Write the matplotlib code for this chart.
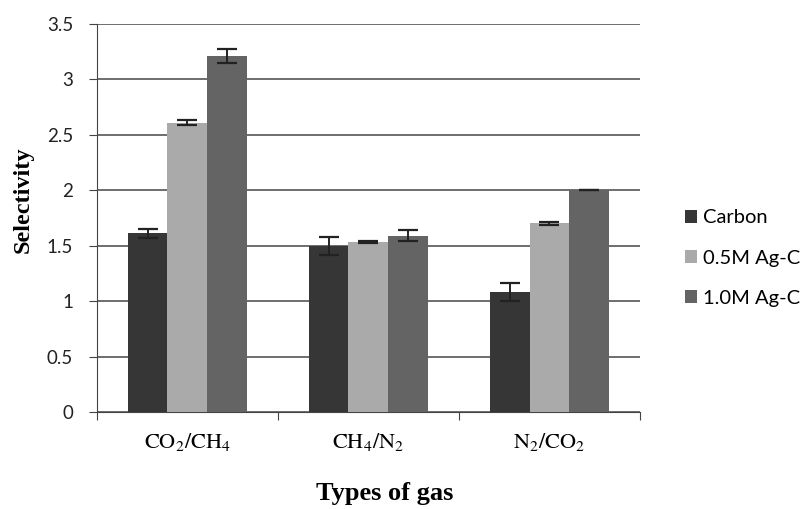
import matplotlib
matplotlib.use("Agg")
import matplotlib.pyplot as plt
import numpy as np

categories = ["CO$_2$/CH$_4$", "CH$_4$/N$_2$", "N$_2$/CO$_2$"]
series_names = ["Carbon", "0.5M Ag-C", "1.0M Ag-C"]
carbon = [1.61, 1.50, 1.08]
carbon_err = [0.04, 0.08, 0.08]
ag05 = [2.61, 1.53, 1.70]
ag05_err = [0.02, 0.01, 0.01]
ag10 = [3.21, 1.59, 2.00]
ag10_err = [0.06, 0.05, 0.0]
yticks = [0, 0.5, 1, 1.5, 2, 2.5, 3, 3.5]
ytick_labels = ["0", "0.5", "1", "1.5", "2", "2.5", "3", "3.5"]

colors = ["#363636", "#aaaaaa", "#646464"]

plt.rcParams['mathtext.fontset'] = 'stix'
fig = plt.figure(figsize=(8.07, 5.09), dpi=100)
ax = fig.add_axes([0.120, 0.1906, 0.673, 0.7624])

x = np.arange(len(categories))
w = 0.22
vals = [carbon, ag05, ag10]
errs = [carbon_err, ag05_err, ag10_err]
for i, (v, e, c, n) in enumerate(zip(vals, errs, colors, series_names)):
    ax.bar(x + (i - 1) * w, v, w, color=c, label=n, zorder=3,
           yerr=e, capsize=7, error_kw=dict(ecolor="#222222", elinewidth=1.4, capthick=1.6, zorder=4))

ax.set_xlim(-0.5, 2.5)
ax.set_ylim(0, 3.5)
ax.set_yticks(yticks)
ax.set_yticklabels(ytick_labels, fontsize=13.5, family="Lato", color="#222222")
ax.yaxis.grid(True, color="#555555", linewidth=1.2, zorder=0)
ax.set_axisbelow(True)
for s in ["top", "right"]:
    ax.spines[s].set_visible(False)
ax.spines["left"].set_color("#444444")
ax.spines["bottom"].set_color("#444444")
ax.tick_params(axis="y", direction="out", length=6, color="#444444", pad=11)
ax.set_xticks([-0.5, 0.5, 1.5, 2.5], minor=False)
ax.set_xticklabels([])
ax.tick_params(axis="x", direction="out", length=6, color="#444444")
ax.set_xticks(x, minor=True)
ax.set_xticklabels(categories, minor=True, fontsize=16)
for lab in ax.get_xticklabels(minor=True):
    lab.set_family("STIXGeneral")
ax.tick_params(axis="x", which="minor", length=0, pad=14)

fig.text(0.0285, 0.607, "Selectivity", rotation=90, ha="center", va="center",
         fontsize=17.5, fontweight="bold", family="Liberation Serif")
fig.text(0.4765, 0.030, "Types of gas", ha="center", va="center",
         fontsize=19, fontweight="bold", family="Liberation Serif")

leg = fig.legend(loc="center left", bbox_to_anchor=(0.826, 0.493), frameon=False,
                 prop={"family": "Lato", "size": 14.5}, handlelength=0.6, handleheight=0.6,
                 handletextpad=0.3, labelspacing=1.15, borderpad=0.4, borderaxespad=0.5)

fig.savefig("out.png", dpi=100)
